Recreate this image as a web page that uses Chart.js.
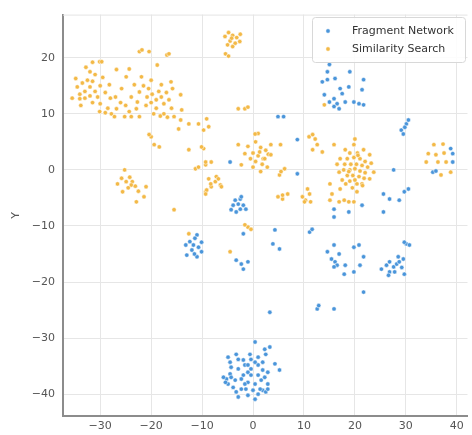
<!DOCTYPE html>
<html lang="en">
<head>
    <meta charset="UTF-8">
    <title>Fragment Network vs Similarity Search</title>
    <script src="https://cdn.jsdelivr.net/npm/chart.js"></script>
    <style>
        body { margin: 0; background: #fff; }
        #chart-container { width: 472px; height: 435px; }
    </style>
</head>
<body>
    <div id="chart-container">
        <canvas id="tsneChart" width="472" height="435"></canvas>
    </div>

    <script>
        // series names and axis ticks
        const seriesNames = ["Fragment Network", "Similarity Search"];
        const seriesColors = ["#4a95da", "#f3b947"];
        const xTicks = [-30, -20, -10, 0, 10, 20, 30, 40];
        const yTicks = [-40, -30, -20, -10, 0, 10, 20];

        // Fragment Network points [x, y]
        const fragmentPoints = [
            // bottom cluster
            [0.4,-30.7],[2.3,-32],[3.3,-31.6],[-3.3,-32.9],[-0.6,-32.9],[2.5,-32.9],[-4.5,-34.3],[-2.9,-33.8],
            [-1.6,-34.8],[-0.4,-35.5],[1,-34.8],[1.9,-34.3],[4.3,-34.6],[5.2,-35.7],[2.9,-36.1],[1,-36.6],
            [-1,-36.1],[-2.9,-35.5],[-4.5,-36.4],[-5.2,-37.3],[-3.5,-37.5],[-1.9,-36.6],[-1,-37.9],[0.4,-38.2],
            [1.6,-37.5],[2.9,-38.2],[1.9,-39.3],[0,-39.3],[-2.3,-39.1],[-3.9,-38.8],[-4.9,-38.2],[-2.9,-40.5],
            [-1,-40.2],[0.4,-40.9],[2.5,-39.6],[-0.4,-36.6],[-1,-34.8],[0.4,-34.3],[-1.9,-33.9],[2.3,-37],
            [-5.4,-37.9],[-5.8,-37],[-4.3,-37],[-1.6,-38.2],[1.4,-39.1],[2.9,-39.1],[-0.4,-33.8],[1,-33.4],
            [1.9,-35.7],[-2.3,-37.3],[-4.3,-35.2],[-1.4,-39.1],[-3.3,-39.6],[1,-40],[-4.9,-33.4],
            // top right cluster
            [15,18.8],[14.6,17.5],[13.6,15.7],[14.6,16.1],[16.1,16.3],[19,17.5],[21.7,16.1],[17.1,14.5],
            [18.8,14.8],[21.4,14.3],[14,13.4],[17.5,13.6],[15.9,12.7],[16.5,11.8],[18.1,12.1],[19.8,12.1],
            [20.8,11.8],[21.7,11.6],[15.9,11.3],[16.9,10.9],[15,12.1],
            // left cluster
            [-11,-11.6],[-11.4,-12.2],[-10.1,-12.9],[-13.2,-13.4],[-11.7,-13.4],[-12,-14.3],[-10.1,-14.6],
            [-13,-15.2],[-11,-15.5],[-11.5,-15],[-12.4,-12.8],[-10.7,-13.8],
            // small cluster near (-3, -6)
            [-2.5,-5.2],[-2.9,-6.1],[-3.9,-6.3],[-1.9,-6.3],[-2.5,-7],[-4.3,-7.1],[-1.4,-7],[-3.3,-7.5],[-3.5,-5.4],
            [-1.9,-11.4],[-3.3,-16.1],[-2.3,-16.8],[-1,-16.4],[-1.9,-17.7],
            // cluster near (17, -16)
            [15.9,-13.4],[14.6,-14.6],[16.9,-15],[19.8,-13.8],[20.8,-13.4],[21.7,-15.5],[16.1,-16.4],
            [16.5,-17],[18.1,-17],[21,-17],[15.9,-17.3],[17.9,-18.6],[19.8,-18.2],[15.4,-15.9],
            // cluster near (28, -16)
            [25.2,-17.7],[26.2,-17],[26.8,-16.4],[27.6,-17.3],[28.2,-16.8],[28.7,-16.4],[29.5,-15.9],
            [28.5,-15.5],[26.8,-18.2],[27.8,-18.2],[29.7,-18.6],[30.1,-13.2],[29.7,-12.9],[30.7,-13.4],
            [26.6,-18.8],[29.2,-17.4],
            // scattered
            [4.3,-10.7],[3.9,-13.2],[5.2,-14.1],[11.1,-11.1],[11.6,-10.6],[15.9,-8.4],[21.7,-21.8],
            [12.6,-24.8],[15.9,-24.8],[12.9,-24.2],[3.3,-25.4],[4.9,9.5],[6,9.5],[8.7,5.4],[-4.5,1.4],
            [8.7,-0.7],[27.6,0],[25.6,-4.3],[26.8,-5.2],[28.7,-5.4],[30.5,-3.4],[29.7,-3.9],[15.9,-7],
            [18.8,-7.5],[21.4,-6.3],[25.6,-7.5],[29.1,7.1],[30.1,8.2],[29.5,6.4],[30.5,8.9],[29.8,7.6],
            [38.8,3.8],[39.2,2.9],[39.2,1.4],[35.3,-0.4],[35.9,-0.2],[-2.3,-4.8]
        ];

        // Similarity Search points [x, y]
        const similarityPoints = [
            // big top left cluster
            [-34.5,14.8],[-34,13.5],[-33.5,15.5],[-33,14],[-33,12.8],[-32.5,16],[-32,14.8],[-32,13.2],
            [-31.5,12],[-31.5,15.8],[-31,14],[-31,17],[-30.5,13],[-30,15],[-30,11.8],[-29.5,16.5],
            [-35.5,12.8],[-34.8,16.3],[-33.8,11.5],[-29,13.8],[-32.8,18.3],[-31.5,19.2],[-30.1,19.3],
            [-32,17.5],[-34,12.7],[-30.1,10.4],[-27.8,10],[-26.8,10.9],[-27.2,9.5],[-28.5,11],[-29,10.2],
            [-26.8,17.9],[-24.3,18],[-24.9,16.6],[-23.3,15.2],[-23.9,13],[-25.8,14.5],[-28.2,15.2],
            [-22.7,12.1],[-22.9,10.9],[-24.3,10.4],[-23.9,9.5],[-22.3,9.5],[-25.2,9.5],[-22.3,13.9],
            [-21.9,16.6],[-27,13],[-26,12],[-25,11.5],[-28,12.8],[-29.7,19.3],
            // second cluster
            [-20.5,14.5],[-19.8,13.5],[-19,12.5],[-18.5,14],[-18,13],[-17.5,11.8],[-19,11],[-20,12],
            [-18,15.2],[-17,13.8],[-16.5,12.5],[-16,11],[-17.5,10],[-19.5,10],[-21,11.5],[-20.8,13],
            [-18.2,9.6],[-16.8,9.4],[-15.8,14.5],[-20,16],[-21.5,15],[-18.8,18.7],[-16.9,20.5],[-16.1,15.7],
            [-14.2,13.4],[-14,10.7],[-15.5,9.5],[-14.2,8.9],[-14.6,7.3],[-12.6,8.2],[-10.7,8.2],[-9.1,9.1],
            [-8.7,7.7],[-9.7,7.1],
            // top
            [-22.3,21.1],[-20.4,21.1],[-21.8,21.4],[-16.5,20.7],
            [-5.5,23.8],[-4.8,24.5],[-4,24],[-3.2,23.6],[-4.5,23],[-3.5,22.6],[-2.6,22.9],[-5,22.3],
            [-4,22],[-2.5,24.2],[-4.2,23.5],[-5.4,20.7],[-4.8,20.3],
            [-2.9,10.9],[-1.6,10.9],[-1,11.2],
            // middle left
            [-20,5.9],[-19.4,4.5],[-18.4,4.1],[-20.4,6.3],[-12.6,3.6],[-9.7,3.8],[-10.1,4.1],[-11.3,0.2],
            [-9.3,0.9],[-8.2,1.4],[-9.3,1.4],[-10.7,0.5],[-8.7,-1.6],[-7.4,-2.1],[-6.4,-2.7],[-8.2,-3],
            [-9.3,-3.9],[-7.2,-1.2],[-8.3,-2.5],[-6.8,-1.6],[-6.2,-3],[-9.1,-3.6],[-9.3,-4.3],[-15.5,-7.1],
            // bottom left cluster
            [-25.2,0],[-26.6,-2.5],[-24.9,-2.1],[-23.7,-2.1],[-23.9,-2.7],[-25.6,-3.9],[-23.1,-2.9],[-21,-3],
            [-21.4,-4.8],[-22.9,-5.7],[-24.5,-3.2],[-22.5,-3.8],[-25.8,-1.5],[-24.2,-1.3],
            [-12.6,-11.4],[-4.5,-14.6],[-1,-10.2],[-0.4,-10.6],[-1.6,-9.8],
            // centre cluster
            [0.5,5],[1.5,4],[2.5,3.5],[0,3],[1,2.5],[2,2],[3,2.8],[0.5,1.5],[1.8,1],[2.8,0.5],[-0.5,2],
            [1,6.5],[3.5,4.5],[-1,4.2],[0,0.5],[1.5,-0.3],[-2.9,4.5],[-2.3,0.9],[-1.6,2.9],[0.4,6.4],
            [2.3,2],[3.5,2.7],[1.3,3.2],
            // right of centre
            [11,5.9],[12.2,5.5],[12.6,4.5],[11.7,3.6],[13.6,3.2],[11.7,6.3],[5.4,4.5],[5.2,-0.9],[6.2,0.2],
            [5.5,-0.3],[4.9,-4.8],[5.8,-5.2],[6.8,-4.3],[5.8,-4.5],[10.7,-3.4],[11.1,-4.3],[10.3,-5.4],
            [11.3,-5.7],[9.7,-4.8],[10.1,-5.7],[15.1,-2.5],[15.5,-4.3],[15.1,-5.4],[16.9,-5.7],[17.9,-5.4],
            [18.8,-5.7],[19.8,-5.7],[17.1,-3.4],[20.4,-3.9],[21.4,-2.5],[14,11.6],[15.9,4.5],
            // dense cluster near (20, 0)
            [19.8,4.5],[18.1,3.6],[21.7,3.6],[22.9,2.7],[17.1,2],[23.7,-0.4],[16.9,-0.4],[17.5,-1.8],
            [22.9,-1.6],[20.4,-2.5],[19,3],[20.5,3],[18.5,2],[19.8,2.2],[21,2],[22,1.5],[18,1],[19.2,1],
            [20.3,1],[21.4,0.8],[22.5,0.5],[17.8,0],[19,0],[20,0.2],[21,-0.2],[22,-0.5],[18.5,-1],
            [19.6,-1],[20.8,-1.2],[21.8,-1.5],[19,-2],[20,-1.8],[18.2,-2.5],[21.5,-2.8],[19.5,-3.2],
            [23.2,1.2],[16.5,1],[20,5.5],[18.8,-0.3],[20.6,2.6],
            // far right cluster
            [35.5,4.5],[37.3,4.6],[34.4,2.9],[35.9,2.7],[37.5,3],[34,1.4],[36.3,1.4],[37.9,1.4],
            [36.9,-0.9],[38.8,-0.4]
        ];

        const toXY = pts => pts.map(p => ({ x: p[0], y: p[1] }));
        const minusSign = v => String(v).replace("-", "\u2212");
        const tickFont = { family: "DejaVu Sans", size: 11 };

        // legend box in the top right corner, like matplotlib's
        const cornerLegend = {
            id: "cornerLegend",
            afterDraw(chart) {
                const ctx = chart.ctx;
                const area = chart.chartArea;
                const boxX = 312, boxY = 17, boxW = 153, boxH = 45;
                ctx.save();
                ctx.fillStyle = "rgba(255,255,255,0.85)";
                ctx.strokeStyle = "#d8d8d8";
                ctx.lineWidth = 1;
                ctx.beginPath();
                ctx.roundRect(boxX + 0.5, boxY + 0.5, boxW, boxH, 3);
                ctx.fill();
                ctx.stroke();
                ctx.font = "11px 'DejaVu Sans'";
                ctx.textBaseline = "middle";
                seriesNames.forEach((name, i) => {
                    const y = boxY + 14 + i * 18;
                    ctx.beginPath();
                    ctx.arc(boxX + 16, y, 2.2, 0, Math.PI * 2);
                    ctx.fillStyle = seriesColors[i];
                    ctx.fill();
                    ctx.strokeStyle = "#fff";
                    ctx.lineWidth = 0.5;
                    ctx.stroke();
                    ctx.fillStyle = "#333";
                    ctx.fillText(name, boxX + 40, y);
                });
                // faint top frame line
                ctx.strokeStyle = "#e4e4e4";
                ctx.lineWidth = 1;
                ctx.beginPath();
                ctx.moveTo(area.left, area.top + 0.5);
                ctx.lineTo(area.right, area.top + 0.5);
                ctx.stroke();
                ctx.restore();
            }
        };

        const ctx = document.getElementById("tsneChart").getContext("2d");
        const tsneChart = new Chart(ctx, {
            type: "scatter",
            data: {
                datasets: [
                    {
                        label: seriesNames[0],
                        data: toXY(fragmentPoints),
                        backgroundColor: seriesColors[0],
                        borderColor: "#ffffff",
                        borderWidth: 0.5,
                        pointRadius: 2.2,
                        order: 2
                    },
                    {
                        label: seriesNames[1],
                        data: toXY(similarityPoints),
                        backgroundColor: seriesColors[1],
                        borderColor: "#ffffff",
                        borderWidth: 0.5,
                        pointRadius: 2.2,
                        order: 1
                    }
                ]
            },
            options: {
                responsive: false,
                animation: false,
                layout: { padding: { top: 14, right: 0, left: 0, bottom: 0 } },
                plugins: {
                    legend: { display: false },
                    tooltip: { enabled: false }
                },
                scales: {
                    x: {
                        type: "linear",
                        min: -37.3,
                        max: 42.1,
                        afterFit: scale => { scale.height = 19; },
                        afterBuildTicks: scale => { scale.ticks = xTicks.map(v => ({ value: v })); },
                        grid: { color: "#e6e6e6", lineWidth: 1, drawTicks: false },
                        border: { color: "#8c8c8c", width: 2 },
                        ticks: {
                            color: "#555",
                            font: tickFont,
                            padding: 4,
                            maxRotation: 0,
                            callback: v => minusSign(v)
                        }
                    },
                    y: {
                        type: "linear",
                        min: -43.9,
                        max: 27.7,
                        afterFit: scale => { scale.width = 63; },
                        afterBuildTicks: scale => { scale.ticks = yTicks.map(v => ({ value: v })); },
                        grid: { color: "#e6e6e6", lineWidth: 1, drawTicks: false },
                        border: { color: "#8c8c8c", width: 2 },
                        title: {
                            display: true,
                            text: "Y",
                            color: "#555",
                            font: tickFont,
                            padding: { top: 10, bottom: 0 }
                        },
                        ticks: {
                            color: "#555",
                            font: tickFont,
                            padding: 8,
                            callback: v => minusSign(v)
                        }
                    }
                }
            },
            plugins: [cornerLegend]
        });
    </script>
</body>
</html>
